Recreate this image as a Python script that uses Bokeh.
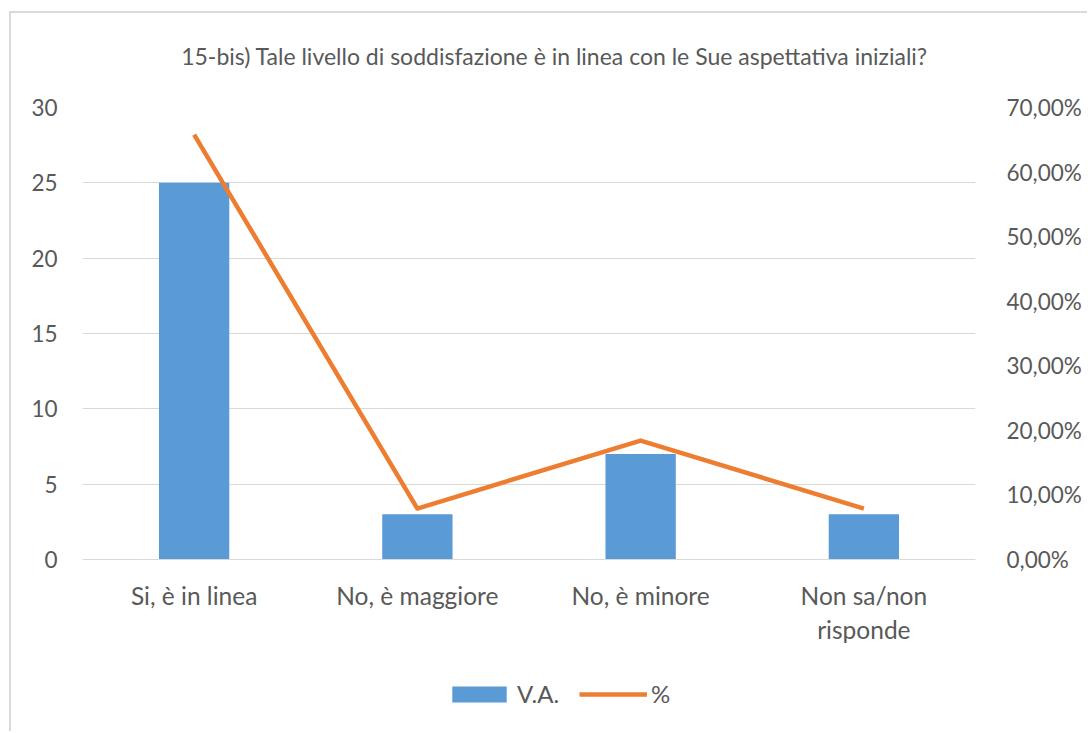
from bokeh.plotting import figure
from bokeh.layouts import column
from bokeh.models import (Range1d, LinearAxis, Legend, LegendItem, SingleIntervalTicker,
                          CustomJSTickFormatter, FactorRange, ColumnDataSource, Label)
from bokeh.embed import file_html
from bokeh.resources import INLINE

categories = ["Si, è in linea", "No, è maggiore", "No, è minore", "Non sa/non\nrisponde"]
va_values = [25, 3, 7, 3]
pct_values = [65.79, 7.89, 18.42, 7.89]
title_text = "15-bis) Tale livello di soddisfazione è in linea con le Sue aspettativa iniziali?"
series_names = ["V.A.", "%"]

FONT = "Lato"
TXT = "#595959"
BLUE = "#5B9BD5"
ORANGE = "#ED7D31"
GRID = "#D9D9D9"

src = ColumnDataSource(dict(cat=categories, va=va_values, pct=pct_values))

# title strip
p0 = figure(width=1076, height=80, x_range=Range1d(0, 1), y_range=Range1d(0, 1),
            output_backend="svg", toolbar_location=None,
            x_axis_location=None, y_axis_location=None,
            min_border_left=0, min_border_right=0, min_border_top=0, min_border_bottom=0)
p0.grid.grid_line_color = None
p0.outline_line_color = None
p0.add_layout(Label(x=472, y=38, x_units="screen", y_units="screen", text=title_text,
                    text_align="center", text_baseline="middle", text_font=FONT,
                    text_font_size="23px", text_color=TXT))

p = figure(x_range=FactorRange(*categories, range_padding=0),
           y_range=Range1d(0, 30), width=1076, height=570,
           output_backend="svg", toolbar_location=None,
           min_border_left=71, min_border_right=112, min_border_top=14, min_border_bottom=104)
p.extra_y_ranges = {"pct": Range1d(0, 70)}
p.outline_line_color = None
p.background_fill_color = "white"

bars = p.vbar(x="cat", top="va", width=0.315, source=src, fill_color=BLUE, line_color=None)
line = p.line(x="cat", y="pct", source=src, y_range_name="pct", line_color=ORANGE,
              line_width=4.5, line_join="round")

yl = p.yaxis[0]
yl.ticker = SingleIntervalTicker(interval=5, num_minor_ticks=0)
yr = LinearAxis(y_range_name="pct",
                ticker=SingleIntervalTicker(interval=10, num_minor_ticks=0),
                formatter=CustomJSTickFormatter(code="return tick.toFixed(2).replace('.', ',') + '%';"))
p.add_layout(yr, "right")
for ax, sd in ((yl, 19), (yr, 25)):
    ax.axis_line_color = None
    ax.major_tick_line_color = None
    ax.minor_tick_line_color = None
    ax.major_label_text_font = FONT
    ax.major_label_text_font_size = "22.5px"
    ax.major_label_text_color = TXT
    ax.major_label_standoff = sd

xa = p.xaxis[0]
xa.axis_line_color = GRID
xa.major_tick_line_color = None
xa.minor_tick_line_color = None
xa.major_label_text_font = FONT
xa.major_label_text_font_size = "24.5px"
xa.major_label_text_color = TXT
xa.major_label_text_line_height = 1.2
xa.major_label_standoff = 15

p.xgrid.grid_line_color = None
p.ygrid.grid_line_color = GRID
p.ygrid.grid_line_width = 1

# legend strip below the chart: proxies of the same series drawn outside its visible range
p2 = figure(width=1076, height=68, x_range=FactorRange(*categories, range_padding=0),
            y_range=Range1d(100, 101), output_backend="svg", toolbar_location=None,
            x_axis_location=None, y_axis_location=None,
            min_border_left=0, min_border_right=0, min_border_top=0, min_border_bottom=0)
p2.grid.grid_line_color = None
p2.outline_line_color = None
lb = p2.vbar(x="cat", top="va", width=0.315, source=src, fill_color=BLUE, line_color=None)
ll = p2.line(x="cat", y="pct", source=src, line_color=ORANGE, line_width=4.5)
legend = Legend(items=[LegendItem(label=series_names[0], renderers=[lb]),
                       LegendItem(label=series_names[1], renderers=[ll])],
                orientation="horizontal", location=(363, 23),
                glyph_width=68, glyph_height=20, label_standoff=4, spacing=20,
                padding=0, margin=0,
                label_text_font=FONT, label_text_font_size="24px", label_text_color=TXT,
                border_line_color=None, background_fill_alpha=0)
p2.add_layout(legend, "center")

layout = column(p0, p, p2, spacing=0)
layout.styles = {"margin-left": "9px", "margin-top": "11px",
                 "border-left": "2px solid #D9D9D9", "border-top": "2px solid #D9D9D9"}

open("out.html", "w").write(file_html(layout, INLINE))
